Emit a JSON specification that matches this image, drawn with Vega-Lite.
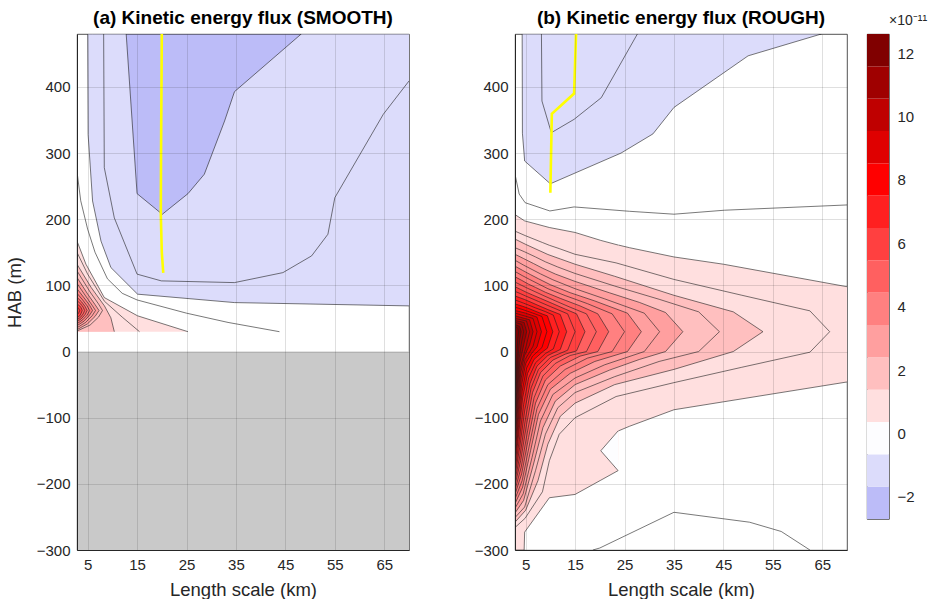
{
"$schema": "https://vega.github.io/schema/vega-lite/v6.json",
"background": "white",
"padding": {"left": 4, "top": 8, "right": 0, "bottom": 0},
"config": {
 "font": "Liberation Sans",
 "view": {"stroke": "#262626", "strokeWidth": 0.8},
 "axis": {"labelFont": "Liberation Sans", "labelFontSize": 15, "labelColor": "#262626", "titleFont": "Liberation Sans", "titleFontSize": 18.5, "titleFontWeight": "normal", "titleColor": "#262626", "domainColor": "#262626", "grid": true, "gridColor": "#262626", "gridOpacity": 0.15, "ticks": false, "labelPadding": 7, "zindex": 1},
 "title": {"font": "Liberation Sans", "fontSize": 19, "fontWeight": "bold", "color": "#000000", "offset": 6}
},
"resolve": {"scale": {"color": "independent", "x": "independent", "y": "independent"}},
"datasets": {
 "contours": [
  {"p":"b","id":"b6","band":0.36,"x":2.85,"hi":207,"lo":-300,"s":1},
  {"p":"b","id":"b6","band":0.36,"x":4.7,"hi":198,"lo":-300,"s":1},
  {"p":"b","id":"b6","band":0.36,"x":4.8,"hi":197.5,"lo":-273,"s":1},
  {"p":"b","id":"b6","band":0.36,"x":9.8,"hi":187.5,"lo":-221,"s":1},
  {"p":"b","id":"b6","band":0.36,"x":15,"hi":180,"lo":-216,"s":1},
  {"p":"b","id":"b6","band":0.36,"x":20.2,"hi":168,"lo":-194.5,"s":1},
  {"p":"b","id":"b6","band":0.36,"x":23.7,"hi":161,"lo":-180,"s":1},
  {"p":"b","id":"b6","band":0.36,"x":23.75,"hi":161,"lo":-120,"s":2},
  {"p":"b","id":"b6","band":0.36,"x":26,"hi":157,"lo":-113,"s":2},
  {"p":"b","id":"b6","band":0.36,"x":35,"hi":143,"lo":-88,"s":2},
  {"p":"b","id":"b6","band":0.36,"x":45,"hi":132,"lo":-76,"s":2},
  {"p":"b","id":"b6","band":0.36,"x":70,"hi":98,"lo":-46,"s":2},
  {"p":"b","id":"bN","band":-0.66,"x":20.2,"hi":-150,"lo":-150},
  {"p":"b","id":"bN","band":-0.66,"x":23.7,"hi":-120,"lo":-180},
  {"p":"b","id":"b7","x":2.85,"hi":182,"lo":-266},
  {"p":"b","id":"b7","x":4.9,"hi":175.3,"lo":-252},
  {"p":"b","id":"b7","x":8.4,"hi":164.8,"lo":-212},
  {"p":"b","id":"b7","x":9.8,"hi":160.6,"lo":-165},
  {"p":"b","id":"b7","x":11.8,"hi":155.6,"lo":-125},
  {"p":"b","id":"b7","x":15,"hi":147,"lo":-100},
  {"p":"b","id":"b7","x":23.3,"hi":134,"lo":-68},
  {"p":"b","id":"b7","x":35,"hi":109,"lo":-47},
  {"p":"b","id":"b7","x":48.6,"hi":85.3,"lo":-24},
  {"p":"b","id":"b7","x":62.5,"hi":61.5,"lo":-1},
  {"p":"b","id":"b7","x":66.5,"hi":30,"lo":30},
  {"p":"b","id":"b8","band":1.38,"x":2.85,"hi":170,"lo":-258},
  {"p":"b","id":"b8","band":1.38,"x":5,"hi":162,"lo":-240},
  {"p":"b","id":"b8","band":1.38,"x":7.5,"hi":153.5,"lo":-195},
  {"p":"b","id":"b8","band":1.38,"x":9.5,"hi":146.7,"lo":-140},
  {"p":"b","id":"b8","band":1.38,"x":12,"hi":140,"lo":-98},
  {"p":"b","id":"b8","band":1.38,"x":15,"hi":132,"lo":-78},
  {"p":"b","id":"b8","band":1.38,"x":23,"hi":113.8,"lo":-50},
  {"p":"b","id":"b8","band":1.38,"x":35,"hi":85,"lo":-27},
  {"p":"b","id":"b8","band":1.38,"x":47,"hi":60,"lo":0},
  {"p":"b","id":"b8","band":1.38,"x":53,"hi":30,"lo":30},
  {"p":"b","id":"b9","x":2.85,"hi":157,"lo":-251},
  {"p":"b","id":"b9","x":4.8,"hi":150.7,"lo":-235},
  {"p":"b","id":"b9","x":7,"hi":143,"lo":-180},
  {"p":"b","id":"b9","x":9,"hi":135.6,"lo":-125},
  {"p":"b","id":"b9","x":11.5,"hi":127.8,"lo":-85},
  {"p":"b","id":"b9","x":15,"hi":118,"lo":-62},
  {"p":"b","id":"b9","x":23,"hi":99,"lo":-38},
  {"p":"b","id":"b9","x":32,"hi":79,"lo":-15},
  {"p":"b","id":"b9","x":40,"hi":60,"lo":0},
  {"p":"b","id":"b9","x":44.2,"hi":30,"lo":30},
  {"p":"b","id":"b10","band":2.4,"x":2.85,"hi":147,"lo":-244},
  {"p":"b","id":"b10","band":2.4,"x":4.6,"hi":140.5,"lo":-225},
  {"p":"b","id":"b10","band":2.4,"x":6.6,"hi":133,"lo":-170},
  {"p":"b","id":"b10","band":2.4,"x":8.5,"hi":125.7,"lo":-115},
  {"p":"b","id":"b10","band":2.4,"x":11,"hi":117.2,"lo":-75},
  {"p":"b","id":"b10","band":2.4,"x":15,"hi":106,"lo":-50},
  {"p":"b","id":"b10","band":2.4,"x":22,"hi":88.7,"lo":-28},
  {"p":"b","id":"b10","band":2.4,"x":28,"hi":74.3,"lo":-12},
  {"p":"b","id":"b10","band":2.4,"x":33.3,"hi":59,"lo":0},
  {"p":"b","id":"b10","band":2.4,"x":36.8,"hi":30,"lo":30},
  {"p":"b","id":"b11","x":2.85,"hi":138,"lo":-237},
  {"p":"b","id":"b11","x":4.5,"hi":131,"lo":-215},
  {"p":"b","id":"b11","x":6.3,"hi":124,"lo":-160},
  {"p":"b","id":"b11","x":8,"hi":117.4,"lo":-105},
  {"p":"b","id":"b11","x":10.5,"hi":108.5,"lo":-65},
  {"p":"b","id":"b11","x":15,"hi":95,"lo":-40},
  {"p":"b","id":"b11","x":21,"hi":79.6,"lo":-20},
  {"p":"b","id":"b11","x":29,"hi":58,"lo":0},
  {"p":"b","id":"b11","x":32.1,"hi":30,"lo":30},
  {"p":"b","id":"b12","band":3.42,"x":2.85,"hi":129,"lo":-230},
  {"p":"b","id":"b12","band":3.42,"x":4.4,"hi":122.6,"lo":-205},
  {"p":"b","id":"b12","band":3.42,"x":6,"hi":116.2,"lo":-150},
  {"p":"b","id":"b12","band":3.42,"x":7.6,"hi":110,"lo":-95},
  {"p":"b","id":"b12","band":3.42,"x":10,"hi":101,"lo":-57},
  {"p":"b","id":"b12","band":3.42,"x":14,"hi":89,"lo":-33},
  {"p":"b","id":"b12","band":3.42,"x":19,"hi":76.4,"lo":-15},
  {"p":"b","id":"b12","band":3.42,"x":25.6,"hi":58,"lo":0},
  {"p":"b","id":"b12","band":3.42,"x":28.4,"hi":30,"lo":30},
  {"p":"b","id":"b13","x":2.85,"hi":121,"lo":-223},
  {"p":"b","id":"b13","x":4.3,"hi":114.9,"lo":-195},
  {"p":"b","id":"b13","x":5.8,"hi":109,"lo":-140},
  {"p":"b","id":"b13","x":7.3,"hi":103.3,"lo":-86},
  {"p":"b","id":"b13","x":9.5,"hi":95,"lo":-50},
  {"p":"b","id":"b13","x":13,"hi":84.6,"lo":-27},
  {"p":"b","id":"b13","x":17.5,"hi":72.4,"lo":-10},
  {"p":"b","id":"b13","x":22.5,"hi":57,"lo":0},
  {"p":"b","id":"b13","x":25,"hi":30,"lo":30},
  {"p":"b","id":"b14","band":4.44,"x":2.85,"hi":113,"lo":-216},
  {"p":"b","id":"b14","band":4.44,"x":4.2,"hi":107.6,"lo":-185},
  {"p":"b","id":"b14","band":4.44,"x":5.6,"hi":101.8,"lo":-130},
  {"p":"b","id":"b14","band":4.44,"x":7,"hi":96.9,"lo":-78},
  {"p":"b","id":"b14","band":4.44,"x":9,"hi":89.6,"lo":-43},
  {"p":"b","id":"b14","band":4.44,"x":12,"hi":80.4,"lo":-22},
  {"p":"b","id":"b14","band":4.44,"x":16,"hi":69,"lo":-7},
  {"p":"b","id":"b14","band":4.44,"x":19.6,"hi":57,"lo":0},
  {"p":"b","id":"b14","band":4.44,"x":21.8,"hi":30,"lo":30},
  {"p":"b","id":"b15","x":2.85,"hi":105,"lo":-209},
  {"p":"b","id":"b15","x":4.1,"hi":100.4,"lo":-175},
  {"p":"b","id":"b15","x":5.4,"hi":95.6,"lo":-120},
  {"p":"b","id":"b15","x":6.7,"hi":91.2,"lo":-70},
  {"p":"b","id":"b15","x":8.5,"hi":85,"lo":-37},
  {"p":"b","id":"b15","x":11,"hi":76.7,"lo":-18},
  {"p":"b","id":"b15","x":14,"hi":67,"lo":-6},
  {"p":"b","id":"b15","x":17.3,"hi":57,"lo":0},
  {"p":"b","id":"b15","x":19.3,"hi":30,"lo":30},
  {"p":"b","id":"b16","band":5.46,"x":2.85,"hi":98,"lo":-202},
  {"p":"b","id":"b16","band":5.46,"x":4,"hi":93.8,"lo":-165},
  {"p":"b","id":"b16","band":5.46,"x":5.2,"hi":89.4,"lo":-110},
  {"p":"b","id":"b16","band":5.46,"x":6.4,"hi":85.5,"lo":-62},
  {"p":"b","id":"b16","band":5.46,"x":8,"hi":80.4,"lo":-32},
  {"p":"b","id":"b16","band":5.46,"x":10.5,"hi":72.4,"lo":-13},
  {"p":"b","id":"b16","band":5.46,"x":13,"hi":64.2,"lo":-4},
  {"p":"b","id":"b16","band":5.46,"x":15.3,"hi":57,"lo":1},
  {"p":"b","id":"b16","band":5.46,"x":17,"hi":30,"lo":30},
  {"p":"b","id":"b17","x":2.85,"hi":91,"lo":-195},
  {"p":"b","id":"b17","x":3.9,"hi":87.7,"lo":-155},
  {"p":"b","id":"b17","x":5,"hi":84,"lo":-100},
  {"p":"b","id":"b17","x":6.1,"hi":80.5,"lo":-55},
  {"p":"b","id":"b17","x":7.6,"hi":75.7,"lo":-27},
  {"p":"b","id":"b17","x":10,"hi":68,"lo":-9},
  {"p":"b","id":"b17","x":13.5,"hi":57,"lo":2},
  {"p":"b","id":"b17","x":15,"hi":30,"lo":30},
  {"p":"b","id":"b18","band":6.48,"x":2.85,"hi":84,"lo":-188},
  {"p":"b","id":"b18","band":6.48,"x":3.8,"hi":81.4,"lo":-145},
  {"p":"b","id":"b18","band":6.48,"x":4.8,"hi":78.6,"lo":-90},
  {"p":"b","id":"b18","band":6.48,"x":5.9,"hi":75.1,"lo":-48},
  {"p":"b","id":"b18","band":6.48,"x":7.3,"hi":70.5,"lo":-22},
  {"p":"b","id":"b18","band":6.48,"x":9.5,"hi":63.4,"lo":-6},
  {"p":"b","id":"b18","band":6.48,"x":12,"hi":56,"lo":3},
  {"p":"b","id":"b18","band":6.48,"x":13.3,"hi":30,"lo":30},
  {"p":"b","id":"b19","x":2.85,"hi":78,"lo":-180},
  {"p":"b","id":"b19","x":3.7,"hi":75.7,"lo":-135},
  {"p":"b","id":"b19","x":4.6,"hi":73.1,"lo":-80},
  {"p":"b","id":"b19","x":5.6,"hi":70.2,"lo":-40},
  {"p":"b","id":"b19","x":7,"hi":66,"lo":-17},
  {"p":"b","id":"b19","x":9,"hi":60.4,"lo":-3},
  {"p":"b","id":"b19","x":10.6,"hi":55,"lo":4},
  {"p":"b","id":"b19","x":11.8,"hi":30,"lo":30},
  {"p":"b","id":"b20","band":7.5,"x":2.85,"hi":72,"lo":-172},
  {"p":"b","id":"b20","band":7.5,"x":3.6,"hi":70.3,"lo":-125},
  {"p":"b","id":"b20","band":7.5,"x":4.4,"hi":68.4,"lo":-70},
  {"p":"b","id":"b20","band":7.5,"x":5.4,"hi":65.8,"lo":-33},
  {"p":"b","id":"b20","band":7.5,"x":6.7,"hi":61.8,"lo":-12},
  {"p":"b","id":"b20","band":7.5,"x":8.5,"hi":56.4,"lo":0},
  {"p":"b","id":"b20","band":7.5,"x":9.4,"hi":54,"lo":5},
  {"p":"b","id":"b20","band":7.5,"x":10.5,"hi":30,"lo":30},
  {"p":"b","id":"b21","x":2.85,"hi":67,"lo":-163},
  {"p":"b","id":"b21","x":3.55,"hi":65.5,"lo":-115},
  {"p":"b","id":"b21","x":4.3,"hi":63.7,"lo":-60},
  {"p":"b","id":"b21","x":5.2,"hi":61.4,"lo":-25},
  {"p":"b","id":"b21","x":6.4,"hi":58.3,"lo":-7},
  {"p":"b","id":"b21","x":8.3,"hi":53,"lo":6},
  {"p":"b","id":"b21","x":9.3,"hi":30,"lo":30},
  {"p":"b","id":"b22","band":8.52,"x":2.85,"hi":62,"lo":-154},
  {"p":"b","id":"b22","band":8.52,"x":3.5,"hi":60.9,"lo":-105},
  {"p":"b","id":"b22","band":8.52,"x":4.2,"hi":59.6,"lo":-50},
  {"p":"b","id":"b22","band":8.52,"x":5,"hi":58,"lo":-18},
  {"p":"b","id":"b22","band":8.52,"x":6.2,"hi":54.9,"lo":-3},
  {"p":"b","id":"b22","band":8.52,"x":7.3,"hi":52,"lo":7},
  {"p":"b","id":"b22","band":8.52,"x":8.2,"hi":30,"lo":30},
  {"p":"b","id":"b23","x":2.85,"hi":58,"lo":-144},
  {"p":"b","id":"b23","x":3.45,"hi":56.8,"lo":-95},
  {"p":"b","id":"b23","x":4.1,"hi":55.3,"lo":-40},
  {"p":"b","id":"b23","x":4.9,"hi":53.6,"lo":-12},
  {"p":"b","id":"b23","x":6.5,"hi":50,"lo":8},
  {"p":"b","id":"b23","x":7.3,"hi":30,"lo":30},
  {"p":"b","id":"b24","band":9.54,"x":2.85,"hi":54,"lo":-134},
  {"p":"b","id":"b24","band":9.54,"x":3.4,"hi":53,"lo":-85},
  {"p":"b","id":"b24","band":9.54,"x":4,"hi":51.7,"lo":-32},
  {"p":"b","id":"b24","band":9.54,"x":4.8,"hi":50,"lo":-6},
  {"p":"b","id":"b24","band":9.54,"x":5.8,"hi":48,"lo":10},
  {"p":"b","id":"b24","band":9.54,"x":6.5,"hi":30,"lo":30},
  {"p":"b","id":"b25","x":2.85,"hi":50,"lo":-122},
  {"p":"b","id":"b25","x":3.35,"hi":49.2,"lo":-75},
  {"p":"b","id":"b25","x":3.9,"hi":48.3,"lo":-25},
  {"p":"b","id":"b25","x":5.2,"hi":46,"lo":11},
  {"p":"b","id":"b25","x":5.8,"hi":30,"lo":30},
  {"p":"b","id":"b26","band":10.56,"x":2.85,"hi":47,"lo":-110},
  {"p":"b","id":"b26","band":10.56,"x":3.3,"hi":46.3,"lo":-65},
  {"p":"b","id":"b26","band":10.56,"x":3.8,"hi":45.5,"lo":-18},
  {"p":"b","id":"b26","band":10.56,"x":4.7,"hi":44,"lo":13},
  {"p":"b","id":"b26","band":10.56,"x":5.2,"hi":30,"lo":30},
  {"p":"b","id":"b27","x":2.85,"hi":44,"lo":-96},
  {"p":"b","id":"b27","x":3.25,"hi":43.2,"lo":-55},
  {"p":"b","id":"b27","x":3.7,"hi":42.2,"lo":-10},
  {"p":"b","id":"b27","x":4.2,"hi":41,"lo":15},
  {"p":"b","id":"b27","x":4.6,"hi":30,"lo":30},
  {"p":"b","id":"b28","band":11.58,"x":2.85,"hi":41,"lo":-80},
  {"p":"b","id":"b28","band":11.58,"x":3.2,"hi":40,"lo":-45},
  {"p":"b","id":"b28","band":11.58,"x":3.55,"hi":38.8,"lo":-3},
  {"p":"b","id":"b28","band":11.58,"x":3.8,"hi":38,"lo":18},
  {"p":"b","id":"b28","band":11.58,"x":4.1,"hi":30,"lo":30},
  {"p":"b","id":"b29","x":2.85,"hi":38,"lo":-60},
  {"p":"b","id":"b29","x":3.15,"hi":37,"lo":-30},
  {"p":"b","id":"b29","x":3.4,"hi":35,"lo":20},
  {"p":"b","id":"b29","x":3.6,"hi":30,"lo":30},
  {"p":"b","id":"bB1","band":-1.68,"x":4.3,"hi":480,"lo":480},
  {"p":"b","id":"bB1","band":-1.68,"x":4.35,"hi":480,"lo":330},
  {"p":"b","id":"bB1","band":-1.68,"x":4.8,"hi":480,"lo":288},
  {"p":"b","id":"bB1","band":-1.68,"x":10,"hi":480,"lo":253.6},
  {"p":"b","id":"bB1","band":-1.68,"x":24.3,"hi":480,"lo":300},
  {"p":"b","id":"bB1","band":-1.68,"x":30.75,"hi":480,"lo":329},
  {"p":"b","id":"bB1","band":-1.68,"x":35,"hi":480,"lo":369},
  {"p":"b","id":"bB1","band":-1.68,"x":50,"hi":480,"lo":447},
  {"p":"b","id":"bB1","band":-1.68,"x":64.8,"hi":480,"lo":480},
  {"p":"b","id":"bM1","x":8.2,"lo":480},
  {"p":"b","id":"bM1","x":8.3,"lo":378.7},
  {"p":"b","id":"bM1","x":10.2,"lo":330.8},
  {"p":"b","id":"bM1","x":14.8,"lo":351},
  {"p":"b","id":"bM1","x":20.3,"lo":383.7},
  {"p":"b","id":"bM1","x":27.6,"lo":480},
  {"p":"b","id":"bM2","x":2.85,"hi":268},
  {"p":"b","id":"bM2","x":3.7,"hi":238},
  {"p":"b","id":"bM2","x":4.9,"hi":225},
  {"p":"b","id":"bM2","x":9.9,"hi":212.5},
  {"p":"b","id":"bM2","x":14.8,"hi":218.6},
  {"p":"b","id":"bM2","x":26,"hi":212},
  {"p":"b","id":"bM2","x":35,"hi":207.6},
  {"p":"b","id":"bM2","x":45.2,"hi":213.6},
  {"p":"b","id":"bM2","x":70,"hi":221.6},
  {"p":"b","id":"bM3","x":18.6,"hi":-300},
  {"p":"b","id":"bM3","x":20,"hi":-297},
  {"p":"b","id":"bM3","x":35,"hi":-243},
  {"p":"b","id":"bM3","x":50.3,"hi":-258},
  {"p":"b","id":"bM3","x":56.7,"hi":-272},
  {"p":"b","id":"bM3","x":62.5,"hi":-300},
  {"p":"a","id":"aB1","band":-1.68,"x":5.0,"hi":480,"lo":480},
  {"p":"a","id":"aB1","band":-1.68,"x":5.1,"hi":480,"lo":328},
  {"p":"a","id":"aB1","band":-1.68,"x":6.0,"hi":480,"lo":227.6},
  {"p":"a","id":"aB1","band":-1.68,"x":7.7,"hi":480,"lo":167},
  {"p":"a","id":"aB1","band":-1.68,"x":9.7,"hi":480,"lo":127},
  {"p":"a","id":"aB1","band":-1.68,"x":15.1,"hi":480,"lo":86.7},
  {"p":"a","id":"aB1","band":-1.68,"x":34.7,"hi":480,"lo":74},
  {"p":"a","id":"aB1","band":-1.68,"x":70,"hi":480,"lo":69},
  {"p":"a","id":"aB2","band":-2.7,"x":12.8,"hi":480,"lo":480},
  {"p":"a","id":"aB2","band":-2.7,"x":15,"hi":480,"lo":238.7},
  {"p":"a","id":"aB2","band":-2.7,"x":20.1,"hi":480,"lo":207.5},
  {"p":"a","id":"aB2","band":-2.7,"x":25.3,"hi":480,"lo":238.7},
  {"p":"a","id":"aB2","band":-2.7,"x":28.6,"hi":480,"lo":268},
  {"p":"a","id":"aB2","band":-2.7,"x":32.7,"hi":480,"lo":348.5},
  {"p":"a","id":"aB2","band":-2.7,"x":34.7,"hi":480,"lo":392.8},
  {"p":"a","id":"aB2","band":-2.7,"x":48.2,"hi":480,"lo":480},
  {"p":"a","id":"aM1","x":8.24,"lo":480},
  {"p":"a","id":"aM1","x":8.37,"lo":278},
  {"p":"a","id":"aM1","x":10.4,"lo":202},
  {"p":"a","id":"aM1","x":15,"lo":117},
  {"p":"a","id":"aM1","x":19.9,"lo":106.8},
  {"p":"a","id":"aM1","x":34.7,"lo":104.2},
  {"p":"a","id":"aM1","x":44.5,"lo":119.3},
  {"p":"a","id":"aM1","x":50.3,"lo":144.6},
  {"p":"a","id":"aM1","x":53.6,"lo":177.3},
  {"p":"a","id":"aM1","x":55,"lo":232.6},
  {"p":"a","id":"aM1","x":64.8,"lo":358.6},
  {"p":"a","id":"aM1","x":70,"lo":409},
  {"p":"a","id":"aM2","x":2.85,"hi":272},
  {"p":"a","id":"aM2","x":3.6,"hi":228},
  {"p":"a","id":"aM2","x":5,"hi":185},
  {"p":"a","id":"aM2","x":6.5,"hi":150},
  {"p":"a","id":"aM2","x":9,"hi":110},
  {"p":"a","id":"aM2","x":12,"hi":88},
  {"p":"a","id":"aM2","x":15,"hi":78},
  {"p":"a","id":"aM2","x":25,"hi":58},
  {"p":"a","id":"aM2","x":33.4,"hi":44},
  {"p":"a","id":"aM2","x":43.8,"hi":30},
  {"p":"a","id":"a6","band":0.36,"x":2.85,"hi":167,"lo":30},
  {"p":"a","id":"a6","band":0.36,"x":4.66,"hi":132,"lo":30},
  {"p":"a","id":"a6","band":0.36,"x":8.37,"hi":81.6,"lo":30},
  {"p":"a","id":"a6","band":0.36,"x":15.1,"hi":54,"lo":30},
  {"p":"a","id":"a6","band":0.36,"x":25.3,"hi":30,"lo":30},
  {"p":"a","id":"a7","x":2.85,"hi":150},
  {"p":"a","id":"a7","x":5,"hi":117},
  {"p":"a","id":"a7","x":8.4,"hi":76},
  {"p":"a","id":"a7","x":12,"hi":52},
  {"p":"a","id":"a7","x":15.5,"hi":30},
  {"p":"a","id":"a8","band":1.38,"x":2.85,"hi":132,"lo":30},
  {"p":"a","id":"a8","band":1.38,"x":5.7,"hi":97,"lo":30},
  {"p":"a","id":"a8","band":1.38,"x":8.4,"hi":69,"lo":30},
  {"p":"a","id":"a8","band":1.38,"x":9.7,"hi":51,"lo":30},
  {"p":"a","id":"a8","band":1.38,"x":10.4,"hi":30,"lo":30},
  {"p":"a","id":"a9","x":2.85,"hi":122,"lo":31},
  {"p":"a","id":"a9","x":5.5,"hi":90,"lo":40},
  {"p":"a","id":"a9","x":7.2,"hi":72,"lo":52},
  {"p":"a","id":"a9","x":8.0,"hi":62,"lo":62},
  {"p":"a","id":"a10","band":2.4,"x":2.85,"hi":112,"lo":33},
  {"p":"a","id":"a10","band":2.4,"x":5,"hi":87,"lo":42},
  {"p":"a","id":"a10","band":2.4,"x":6.5,"hi":71,"lo":53},
  {"p":"a","id":"a10","band":2.4,"x":7.3,"hi":62,"lo":62},
  {"p":"a","id":"a11","x":2.85,"hi":103,"lo":36},
  {"p":"a","id":"a11","x":4.6,"hi":84,"lo":44},
  {"p":"a","id":"a11","x":5.9,"hi":70,"lo":54},
  {"p":"a","id":"a11","x":6.6,"hi":62,"lo":62},
  {"p":"a","id":"a12","band":3.42,"x":2.85,"hi":95,"lo":39},
  {"p":"a","id":"a12","band":3.42,"x":4.3,"hi":81,"lo":46},
  {"p":"a","id":"a12","band":3.42,"x":5.4,"hi":70,"lo":55},
  {"p":"a","id":"a12","band":3.42,"x":6.0,"hi":62,"lo":62},
  {"p":"a","id":"a13","x":2.85,"hi":88,"lo":42},
  {"p":"a","id":"a13","x":4.0,"hi":78,"lo":48},
  {"p":"a","id":"a13","x":4.9,"hi":69,"lo":55},
  {"p":"a","id":"a13","x":5.4,"hi":62,"lo":62},
  {"p":"a","id":"a14","band":4.44,"x":2.85,"hi":82,"lo":45},
  {"p":"a","id":"a14","band":4.44,"x":3.8,"hi":75,"lo":50},
  {"p":"a","id":"a14","band":4.44,"x":4.5,"hi":68,"lo":56},
  {"p":"a","id":"a14","band":4.44,"x":4.9,"hi":62,"lo":62},
  {"p":"a","id":"a15","x":2.85,"hi":77,"lo":48},
  {"p":"a","id":"a15","x":3.6,"hi":72,"lo":52},
  {"p":"a","id":"a15","x":4.1,"hi":67,"lo":57},
  {"p":"a","id":"a15","x":4.4,"hi":62,"lo":62},
  {"p":"a","id":"a16","band":5.46,"x":2.85,"hi":72,"lo":51},
  {"p":"a","id":"a16","band":5.46,"x":3.4,"hi":69,"lo":54},
  {"p":"a","id":"a16","band":5.46,"x":3.7,"hi":66,"lo":58},
  {"p":"a","id":"a16","band":5.46,"x":3.9,"hi":62,"lo":62},
  {"p":"a","id":"a17","x":2.85,"hi":68,"lo":55},
  {"p":"a","id":"a17","x":3.2,"hi":65,"lo":58.5},
  {"p":"a","id":"a17","x":3.4,"hi":62,"lo":62}
 ],
 "ridge": [
  {"p":"a","x":20,"y":480},{"p":"a","x":19.85,"y":300},{"p":"a","x":19.8,"y":208},{"p":"a","x":20,"y":150},{"p":"a","x":20.3,"y":119},
  {"p":"b","x":15.2,"y":480},{"p":"b","x":14.8,"y":390},{"p":"b","x":10.3,"y":359.5},{"p":"b","x":10,"y":240}
 ],
 "bands": [
  {"band":-2.7,"top":-1.68},{"band":-1.68,"top":-0.66},{"band":-0.66,"top":0.36},{"band":0.36,"top":1.38},{"band":1.38,"top":2.4},
  {"band":2.4,"top":3.42},{"band":3.42,"top":4.44},{"band":4.44,"top":5.46},{"band":5.46,"top":6.48},{"band":6.48,"top":7.5},
  {"band":7.5,"top":8.52},{"band":8.52,"top":9.54},{"band":9.54,"top":10.56},{"band":10.56,"top":11.58},{"band":11.58,"top":12.6}
 ]
},
"spacing": 63,
"hconcat": [
 {
  "width": 332, "height": 516,
  "title": {"text": "(a) Kinetic energy flux (SMOOTH)"},
  "layer": [
   {
    "data": {"values": [{}]},
    "mark": {"type": "rect", "color": "#c9c9c9"},
    "encoding": {
     "x": {"datum": 2.85, "type": "quantitative", "scale": {"domain": [2.85, 70], "nice": false, "zero": false}, "axis": {"values": [5,15,25,35,45,55,65], "title": "Length scale (km)", "titlePadding": 8, "grid": true, "zindex": 1}},
     "x2": {"datum": 70},
     "y": {"datum": -300, "type": "quantitative", "scale": {"domain": [-300, 480], "nice": false, "zero": false}, "axis": {"values": [-300,-200,-100,0,100,200,300,400], "title": "HAB (m)", "titlePadding": 12, "grid": true, "zindex": 1}},
     "y2": {"datum": 0}
    }
   },
   {
    "data": {"name": "contours"},
    "transform": [{"filter": "datum.p == 'a' && isValid(datum.band)"}],
    "mark": {"type": "area", "clip": true},
    "encoding": {
     "x": {"field": "x", "type": "quantitative", "scale": {"domain": [2.85, 70], "nice": false, "zero": false}, "axis": {"values": [5,15,25,35,45,55,65], "title": "Length scale (km)", "titlePadding": 8, "grid": true, "zindex": 1}},
     "y": {"field": "hi", "type": "quantitative", "stack": null, "scale": {"domain": [-300, 480], "nice": false, "zero": false}, "axis": {"values": [-300,-200,-100,0,100,200,300,400], "title": "HAB (m)", "titlePadding": 12, "grid": true, "zindex": 1}},
     "y2": {"field": "lo"},
     "color": {"field": "band", "type": "ordinal", "legend": null, "scale": {"domain": [-2.7,-1.68,-0.66,0.36,1.38,2.4,3.42,4.44,5.46,6.48,7.5,8.52,9.54,10.56,11.58], "range": ["#bcbcf8","#dcdcfb","#fdfdff","#ffdfdf","#ffbfbf","#ff9f9f","#ff8080","#ff6060","#ff4040","#ff2020","#ff0000","#df0000","#bf0000","#9f0000","#800000"]}},
     "detail": {"field": "id"}
    }
   },
   {
    "data": {"name": "contours"},
    "transform": [
     {"filter": "datum.p == 'a'"},
     {"fold": ["hi", "lo"], "as": ["key", "value"]},
     {"filter": "isValid(datum.value) && !(datum.key == 'lo' && datum.value == 30)"}
    ],
    "mark": {"type": "line", "color": "#1e1e1e", "strokeWidth": 0.6, "clip": true},
    "encoding": {
     "x": {"field": "x", "type": "quantitative", "scale": {"domain": [2.85, 70], "nice": false, "zero": false}, "axis": {"values": [5,15,25,35,45,55,65], "title": "Length scale (km)", "titlePadding": 8, "grid": true, "zindex": 1}},
     "y": {"field": "value", "type": "quantitative", "scale": {"domain": [-300, 480], "nice": false, "zero": false}, "axis": {"values": [-300,-200,-100,0,100,200,300,400], "title": "HAB (m)", "titlePadding": 12, "grid": true, "zindex": 1}},
     "detail": [{"field": "id"}, {"field": "key"}, {"field": "s"}]
    }
   },
   {
    "data": {"name": "ridge"},
    "transform": [{"filter": "datum.p == 'a'"}],
    "mark": {"type": "line", "color": "#ffff00", "strokeWidth": 2.6, "clip": true},
    "encoding": {
     "x": {"field": "x", "type": "quantitative", "scale": {"domain": [2.85, 70], "nice": false, "zero": false}, "axis": {"values": [5,15,25,35,45,55,65], "title": "Length scale (km)", "titlePadding": 8, "grid": true, "zindex": 1}},
     "y": {"field": "y", "type": "quantitative", "scale": {"domain": [-300, 480], "nice": false, "zero": false}, "axis": {"values": [-300,-200,-100,0,100,200,300,400], "title": "HAB (m)", "titlePadding": 12, "grid": true, "zindex": 1}},
     "order": {"field": "y", "sort": "descending"}
    }
   }
  ]
 },
 {
  "spacing": 18,
  "hconcat": [
   {
    "width": 332, "height": 516,
    "title": {"text": "(b) Kinetic energy flux (ROUGH)"},
    "layer": [
     {
      "data": {"name": "contours"},
      "transform": [{"filter": "datum.p == 'b' && isValid(datum.band)"}],
      "mark": {"type": "area", "clip": true},
      "encoding": {
       "x": {"field": "x", "type": "quantitative", "scale": {"domain": [2.85, 70], "nice": false, "zero": false}, "axis": {"values": [5,15,25,35,45,55,65], "title": "Length scale (km)", "titlePadding": 8, "grid": true, "zindex": 1}},
       "y": {"field": "hi", "type": "quantitative", "stack": null, "scale": {"domain": [-300, 480], "nice": false, "zero": false}, "axis": {"values": [-300,-200,-100,0,100,200,300,400], "title": null, "grid": true, "zindex": 1}},
       "y2": {"field": "lo"},
       "color": {"field": "band", "type": "ordinal", "legend": null, "scale": {"domain": [-2.7,-1.68,-0.66,0.36,1.38,2.4,3.42,4.44,5.46,6.48,7.5,8.52,9.54,10.56,11.58], "range": ["#bcbcf8","#dcdcfb","#fdfdff","#ffdfdf","#ffbfbf","#ff9f9f","#ff8080","#ff6060","#ff4040","#ff2020","#ff0000","#df0000","#bf0000","#9f0000","#800000"]}},
       "detail": {"field": "id"}
      }
     },
     {
      "data": {"name": "contours"},
      "transform": [
       {"filter": "datum.p == 'b'"},
       {"fold": ["hi", "lo"], "as": ["key", "value"]},
       {"filter": "isValid(datum.value)"}
      ],
      "mark": {"type": "line", "color": "#1e1e1e", "strokeWidth": 0.6, "clip": true},
      "encoding": {
       "x": {"field": "x", "type": "quantitative", "scale": {"domain": [2.85, 70], "nice": false, "zero": false}, "axis": {"values": [5,15,25,35,45,55,65], "title": "Length scale (km)", "titlePadding": 8, "grid": true, "zindex": 1}},
       "y": {"field": "value", "type": "quantitative", "scale": {"domain": [-300, 480], "nice": false, "zero": false}, "axis": {"values": [-300,-200,-100,0,100,200,300,400], "title": null, "grid": true, "zindex": 1}},
       "detail": [{"field": "id"}, {"field": "key"}, {"field": "s"}]
      }
     },
     {
      "data": {"name": "ridge"},
      "transform": [{"filter": "datum.p == 'b'"}],
      "mark": {"type": "line", "color": "#ffff00", "strokeWidth": 2.6, "clip": true},
      "encoding": {
       "x": {"field": "x", "type": "quantitative", "scale": {"domain": [2.85, 70], "nice": false, "zero": false}, "axis": {"values": [5,15,25,35,45,55,65], "title": "Length scale (km)", "titlePadding": 8, "grid": true, "zindex": 1}},
       "y": {"field": "y", "type": "quantitative", "scale": {"domain": [-300, 480], "nice": false, "zero": false}, "axis": {"values": [-300,-200,-100,0,100,200,300,400], "title": null, "grid": true, "zindex": 1}},
       "order": {"field": "y", "sort": "descending"}
      }
     }
    ]
   },
   {
    "width": 22, "height": 485,
    "title": {"text": "×10⁻¹¹", "anchor": "start", "fontSize": 14, "fontWeight": "normal", "color": "#262626", "dx": 22, "offset": 6},
    "data": {"name": "bands"},
    "mark": {"type": "rect"},
    "encoding": {
     "x": {"datum": 0, "type": "quantitative", "scale": {"domain": [0, 1]}, "axis": null},
     "x2": {"datum": 1},
     "y": {"field": "band", "type": "quantitative", "scale": {"domain": [-2.7, 12.6], "nice": false, "zero": false}, "axis": {"orient": "right", "values": [-2,0,2,4,6,8,10,12], "title": null, "grid": false, "domain": false, "labelPadding": 8}},
     "y2": {"field": "top"},
     "color": {"field": "band", "type": "ordinal", "legend": null, "scale": {"domain": [-2.7,-1.68,-0.66,0.36,1.38,2.4,3.42,4.44,5.46,6.48,7.5,8.52,9.54,10.56,11.58], "range": ["#bcbcf8","#dcdcfb","#fdfdff","#ffdfdf","#ffbfbf","#ff9f9f","#ff8080","#ff6060","#ff4040","#ff2020","#ff0000","#df0000","#bf0000","#9f0000","#800000"]}}
    }
   }
  ]
 }
]
}
